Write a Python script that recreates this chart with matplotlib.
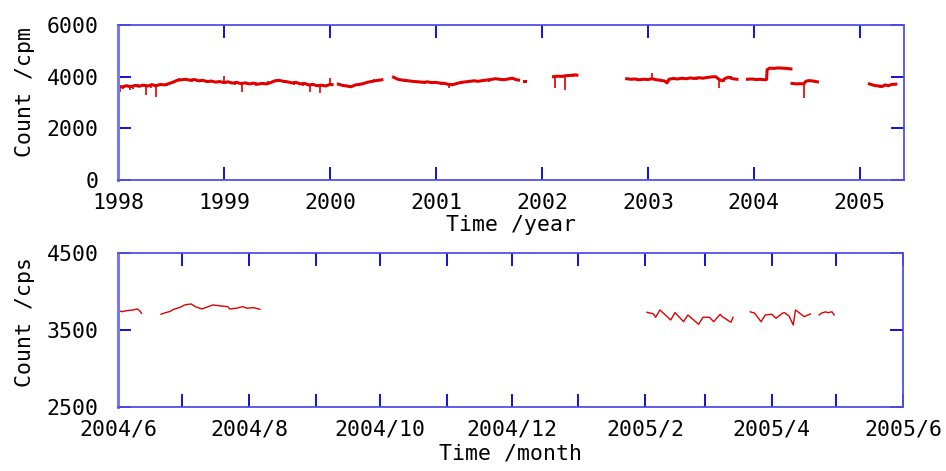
import matplotlib
matplotlib.use('Agg')
import matplotlib.pyplot as plt
import matplotlib.dates as mdates
import matplotlib.ticker as ticker
import pandas as pd

plt.rcParams['font.family'] = ['DejaVu Sans Mono']
plt.rcParams['font.size'] = 15.5

# ---- top panel: counts per minute, 1998 - 2005 (decimal year) ----
seg_a_t = [1998.00, 1998.04, 1998.08, 1998.12, 1998.16, 1998.20, 1998.24, 1998.28, 1998.32, 1998.36,
           1998.40, 1998.44, 1998.48, 1998.52, 1998.56, 1998.60, 1998.64, 1998.68, 1998.72, 1998.76,
           1998.80, 1998.84, 1998.88, 1998.92, 1998.96, 1999.00, 1999.04, 1999.08, 1999.12, 1999.16,
           1999.20, 1999.24, 1999.28, 1999.32, 1999.36, 1999.40, 1999.44, 1999.48, 1999.52, 1999.56,
           1999.60, 1999.64, 1999.68, 1999.72, 1999.76, 1999.80, 1999.84, 1999.88, 1999.92, 1999.96,
           2000.00, 2000.02]
seg_a_v = [3640, 3600, 3650, 3610, 3660, 3630, 3670, 3640, 3690, 3650,
           3700, 3680, 3730, 3790, 3860, 3880, 3900, 3860, 3890, 3840,
           3860, 3810, 3830, 3790, 3810, 3770, 3800, 3750, 3780, 3730,
           3760, 3720, 3750, 3710, 3740, 3720, 3770, 3840, 3860, 3820,
           3800, 3760, 3780, 3720, 3740, 3680, 3700, 3650, 3670, 3640,
           3700, 3690]
seg_b_t = [2000.08, 2000.12, 2000.16, 2000.20, 2000.24, 2000.28, 2000.32, 2000.36, 2000.40, 2000.44, 2000.49]
seg_b_v = [3710, 3660, 3640, 3610, 3680, 3700, 3740, 3790, 3820, 3850, 3880]
seg_c_t = [2000.60, 2000.64, 2000.68, 2000.72, 2000.76, 2000.80, 2000.84, 2000.88, 2000.92, 2000.96,
           2001.00, 2001.04, 2001.08, 2001.12, 2001.16, 2001.20, 2001.24, 2001.28, 2001.32, 2001.36,
           2001.40, 2001.44, 2001.48, 2001.52, 2001.56, 2001.60, 2001.64, 2001.68, 2001.72, 2001.76, 2001.78]
seg_c_v = [3980, 3900, 3870, 3850, 3830, 3810, 3800, 3780, 3800, 3770,
           3780, 3750, 3740, 3700, 3690, 3740, 3780, 3800, 3820, 3840,
           3820, 3850, 3870, 3890, 3920, 3900, 3880, 3910, 3940, 3880, 3870]
seg_d_t = [2001.835, 2001.845]
seg_d_v = [3820, 3820]
seg_e_t = [2002.11, 2002.15, 2002.19, 2002.23, 2002.27, 2002.31, 2002.33]
seg_e_v = [4000, 4020, 4010, 4040, 4050, 4070, 4060]
seg_f_t = [2002.80, 2002.84, 2002.88, 2002.92, 2002.96, 2003.00, 2003.04, 2003.08, 2003.12, 2003.16,
           2003.18, 2003.20, 2003.24, 2003.28, 2003.32, 2003.36, 2003.40, 2003.44, 2003.48, 2003.52,
           2003.56, 2003.60, 2003.64, 2003.67, 2003.70, 2003.73, 2003.76, 2003.80, 2003.84]
seg_f_v = [3920, 3900, 3910, 3880, 3900, 3890, 3920, 3880, 3860, 3830,
           3760, 3900, 3930, 3910, 3940, 3920, 3950, 3930, 3960, 3940,
           3970, 3990, 4000, 3900, 3840, 3930, 3980, 3920, 3900]
seg_g_t = [2003.94, 2003.98, 2004.02, 2004.06, 2004.10, 2004.12, 2004.125, 2004.15, 2004.19, 2004.23,
           2004.27, 2004.31, 2004.35]
seg_g_v = [3900, 3910, 3890, 3900, 3880, 3890, 4270, 4330, 4320, 4340,
           4330, 4320, 4300]
seg_h_t = [2004.36, 2004.40, 2004.44, 2004.47, 2004.49, 2004.52, 2004.56, 2004.60]
seg_h_v = [3740, 3720, 3730, 3720, 3820, 3850, 3830, 3800]
seg_i_t = [2005.09, 2005.12, 2005.15, 2005.18, 2005.21, 2005.24, 2005.27, 2005.30, 2005.34]
seg_i_v = [3720, 3680, 3650, 3640, 3620, 3680, 3650, 3700, 3710]

# short spikes (time, level of line, extreme value)
spike_t = [1998.02, 1998.11, 1998.26, 1998.36, 1999.00, 1999.17, 1999.81, 1999.91, 2000.00,
           2001.12, 2002.12, 2002.22, 2003.04, 2003.67, 2004.47,
           1998.05, 1998.14, 1998.19, 1998.31, 1998.46, 1998.58, 1998.70, 1998.86, 1999.10, 1999.30,
           1999.42, 1999.66, 1999.75, 2000.18, 2000.42, 2000.70, 2000.90, 2001.05, 2001.25, 2001.50,
           2001.62, 2002.29, 2002.90, 2003.14, 2003.46, 2003.58, 2003.72, 2003.78, 2004.04, 2004.21,
           2004.55, 2005.19, 2005.28]
spike_base = [3640, 3610, 3640, 3650, 3770, 3730, 3680, 3670, 3700,
              3700, 4000, 4040, 3920, 3900, 3720,
              3600, 3630, 3640, 3680, 3700, 3870, 3870, 3820, 3760, 3730,
              3740, 3770, 3730, 3630, 3830, 3860, 3790, 3750, 3780, 3880,
              3890, 4060, 3890, 3850, 3940, 3980, 3900, 3950, 3890, 4330,
              3840, 3640, 3660]
spike_end = [3390, 3500, 3300, 3210, 4010, 3400, 3390, 3365, 3950,
             3560, 3580, 3480, 4140, 3560, 3170,
             3520, 3540, 3720, 3580, 3620, 3950, 3790, 3740, 3680, 3650,
             3820, 3690, 3640, 3560, 3900, 3780, 3720, 3670, 3700, 3800,
             3960, 3990, 3820, 3780, 3870, 4040, 3780, 4030, 3840, 4390,
             3780, 3580, 3720]

# ---- bottom panel: counts per second, 2004/6 - 2005/6 ----
day_1 = ['2004-06-01', '2004-06-03', '2004-06-05', '2004-06-08', '2004-06-10', '2004-06-11', '2004-06-12']
cps_1 = [3751, 3738, 3751, 3760, 3773, 3751, 3717]
day_2 = ['2004-06-21', '2004-06-23', '2004-06-25', '2004-06-27', '2004-06-30', '2004-07-02', '2004-07-05',
         '2004-07-07', '2004-07-10', '2004-07-13', '2004-07-15', '2004-07-19', '2004-07-22', '2004-07-23',
         '2004-07-26', '2004-07-29', '2004-07-31', '2004-08-03', '2004-08-06']
cps_2 = [3704, 3725, 3738, 3769, 3795, 3825, 3838,
         3803, 3773, 3803, 3825, 3812, 3803, 3773,
         3782, 3803, 3782, 3790, 3769]
day_3 = ['2005-02-02', '2005-02-05', '2005-02-06', '2005-02-08', '2005-02-13', '2005-02-15', '2005-02-19',
         '2005-02-21', '2005-02-26', '2005-02-28', '2005-03-03', '2005-03-05', '2005-03-08', '2005-03-09',
         '2005-03-13', '2005-03-14']
cps_3 = [3730, 3708, 3665, 3760, 3630, 3725, 3608,
         3695, 3574, 3665, 3665, 3608, 3704, 3673,
         3600, 3665]
day_4 = ['2005-03-22', '2005-03-24', '2005-03-27', '2005-03-29', '2005-04-01', '2005-04-03', '2005-04-06',
         '2005-04-07', '2005-04-09', '2005-04-11', '2005-04-12', '2005-04-14', '2005-04-16', '2005-04-19']
cps_4 = [3736, 3719, 3608, 3695, 3704, 3652, 3719,
         3725, 3682, 3565, 3760, 3719, 3673, 3708]
day_5 = ['2005-04-23', '2005-04-24', '2005-04-26', '2005-04-27', '2005-04-29', '2005-04-30']
cps_5 = [3695, 3717, 3736, 3725, 3736, 3695]

red = '#e00000'
frame = '#5050e8'
tickc = '#0000d0'


def cosmetics(ax):
    for s in ax.spines.values():
        s.set_color(frame)
        s.set_linewidth(1.3)
    ax.spines['left'].set_linewidth(2.2)
    ax.spines['left'].set_color('#7878f0')
    ax.tick_params(which='both', direction='in', length=9.5, width=1.3, color=tickc,
                   top=True, right=True)
    ax.tick_params(axis='x', which='both', pad=9)
    ax.tick_params(axis='y', which='both', pad=14)


fig = plt.figure(figsize=(9.46, 4.71), dpi=100)

ax1 = fig.add_axes([0.1247, 0.6178, 0.8309, 0.3291])
for t, v in [(seg_a_t, seg_a_v), (seg_b_t, seg_b_v), (seg_c_t, seg_c_v), (seg_d_t, seg_d_v),
             (seg_e_t, seg_e_v), (seg_f_t, seg_f_v), (seg_g_t, seg_g_v), (seg_h_t, seg_h_v),
             (seg_i_t, seg_i_v)]:
    ax1.plot(t, v, color=red, linewidth=2.2)
ax1.vlines(spike_t, spike_base, spike_end, color=red, linewidth=1.2)
ax1.set_xlim(1998, 2005 + 5 / 12)
ax1.set_ylim(0, 6000)
ax1.set_xticks(range(1998, 2006))
ax1.set_yticks([0, 2000, 4000, 6000])
cosmetics(ax1)
ax1.set_xlabel('Time /year', labelpad=2)
ax1.set_ylabel('Count /cpm')
ax1.yaxis.set_label_coords(-0.106, 0.565)

ax2 = fig.add_axes([0.1247, 0.1359, 0.8298, 0.3270])
for d, v in [(day_1, cps_1), (day_2, cps_2), (day_3, cps_3), (day_4, cps_4), (day_5, cps_5)]:
    ax2.plot(pd.to_datetime(d), v, color=red, linewidth=1.0)
ax2.set_xlim(pd.Timestamp('2004-06-01'), pd.Timestamp('2005-06-01'))
ax2.set_ylim(2500, 4500)
ax2.set_yticks([2500, 3500, 4500])
ax2.xaxis.set_major_locator(mdates.MonthLocator(bymonth=[2, 4, 6, 8, 10, 12]))
ax2.xaxis.set_minor_locator(mdates.MonthLocator())
ax2.xaxis.set_major_formatter(ticker.FuncFormatter(
    lambda x, pos: '%d/%d' % (mdates.num2date(x).year, mdates.num2date(x).month)))
cosmetics(ax2)
ax2.set_xlabel('Time /month', labelpad=3)
ax2.set_ylabel('Count /cps')
ax2.yaxis.set_label_coords(-0.106, 0.55)

fig.savefig('out.png', dpi=100)
